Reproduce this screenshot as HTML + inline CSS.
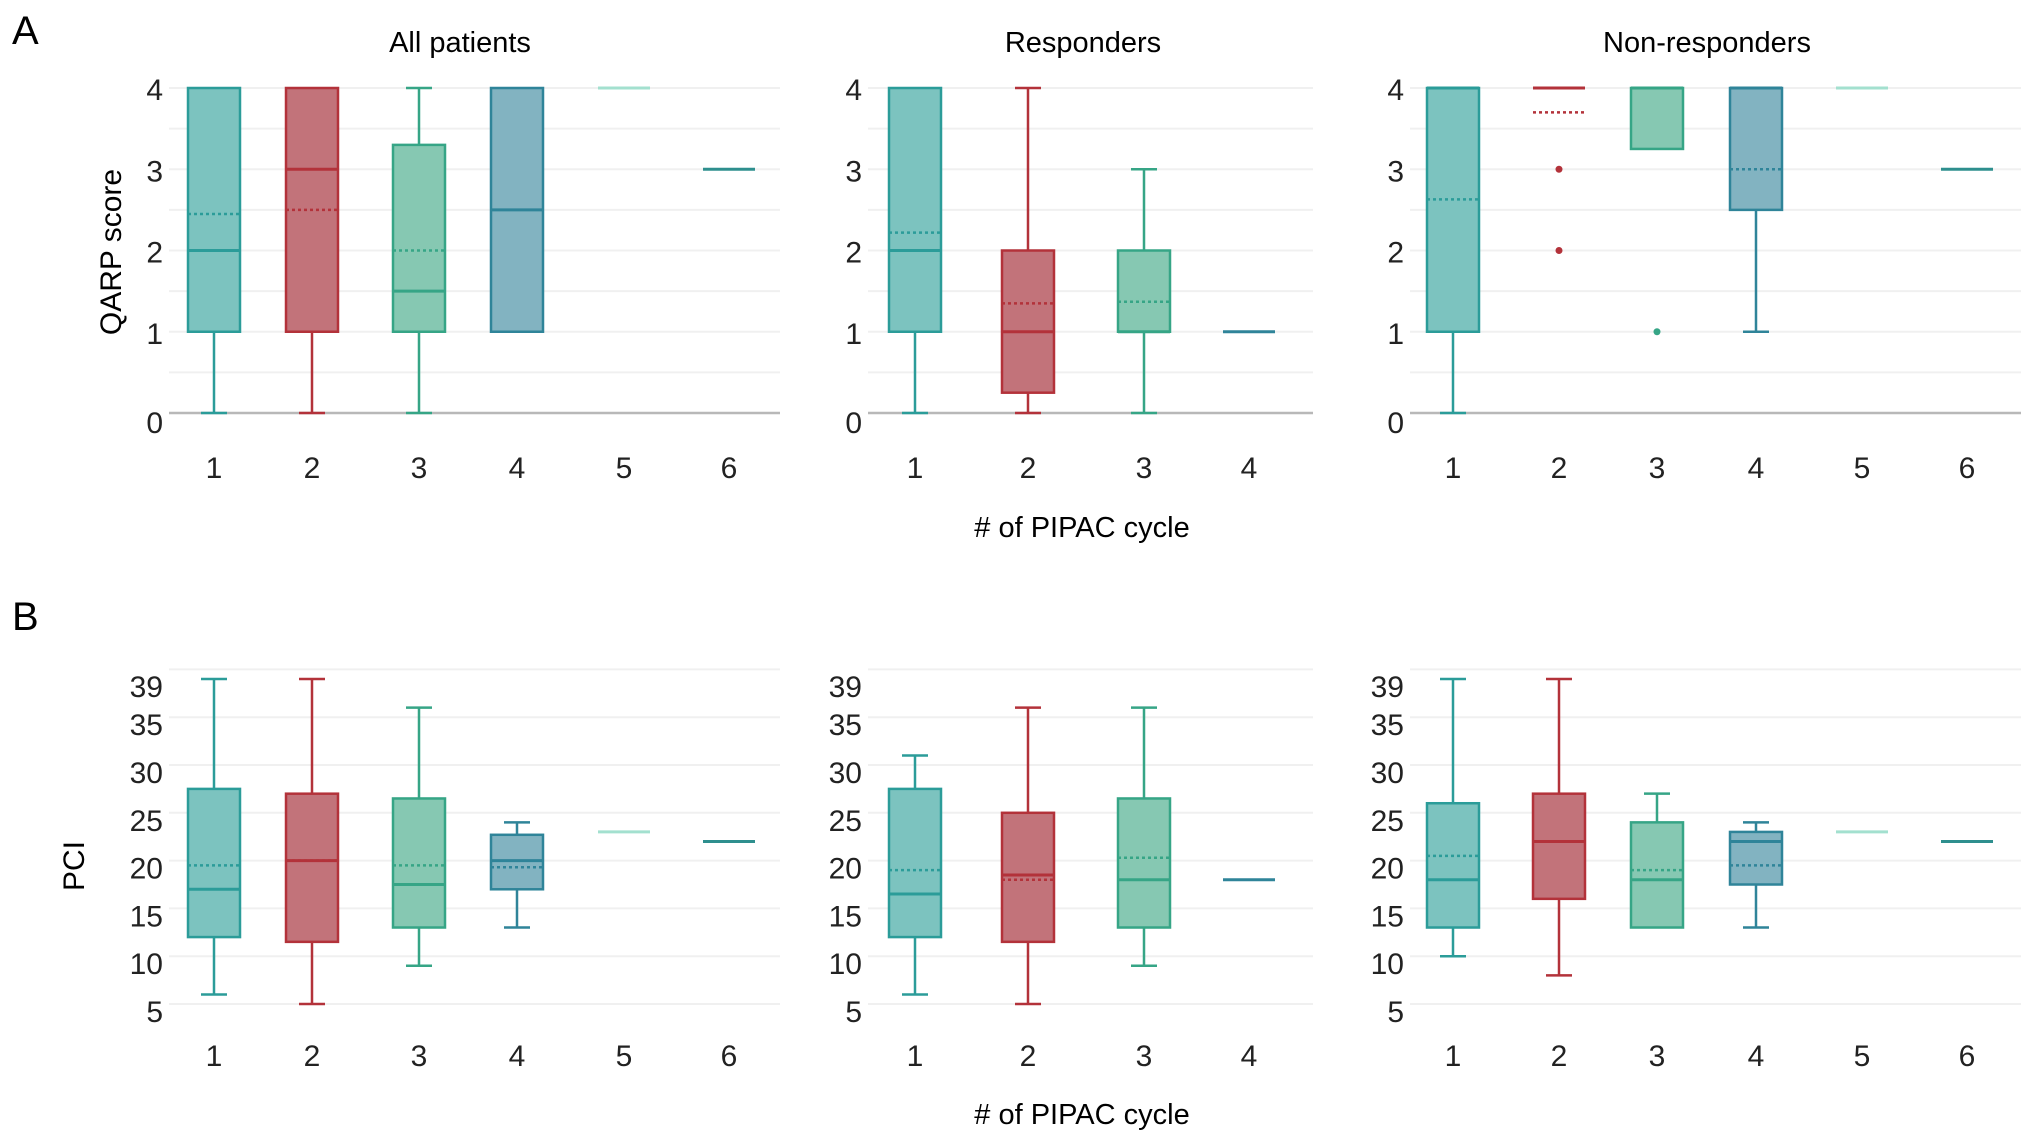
<!DOCTYPE html>
<html><head><meta charset="utf-8"><style>
html,body{margin:0;padding:0;background:#fff;}
svg{display:block;font-family:"Liberation Sans",sans-serif;}
</style></head><body>
<svg id="fig" width="2032" height="1142" viewBox="0 0 2032 1142" xmlns="http://www.w3.org/2000/svg">
<text x="12" y="44" font-size="40">A</text>
<text x="12" y="630" font-size="40">B</text>
<text x="460" y="52" font-size="29" text-anchor="middle">All patients</text>
<text x="1083" y="52" font-size="29" text-anchor="middle">Responders</text>
<text x="1707" y="52" font-size="29" text-anchor="middle">Non-responders</text>
<text x="1082" y="537" font-size="29" text-anchor="middle"># of PIPAC cycle</text>
<text x="1082" y="1124" font-size="29" text-anchor="middle"># of PIPAC cycle</text>
<text transform="translate(121,252) rotate(-90)" font-size="30" text-anchor="middle">QARP score</text>
<text transform="translate(84,866) rotate(-90)" font-size="30" text-anchor="middle">PCI</text>
</svg>
<script>
// cycles per panel
const cyclesAll = [1,2,3,4,5,6];
const cyclesResp = [1,2,3,4];
const cyclesNon = [1,2,3,4,5,6];
// QARP [lo, q1, med, q3, hi, mean]
const qarpAll = [[0,1,2,4,4,2.45],[0,1,3,4,4,2.5],[0,1,1.5,3.3,4,2.0],[1,1,2.5,4,4,null],[4,4,4,4,4,null],[3,3,3,3,3,null]];
const qarpResp = [[0,1,2,4,4,2.22],[0,0.25,1,2,4,1.35],[0,1,1,2,3,1.37],[1,1,1,1,1,null]];
const qarpNon = [[0,1,4,4,4,2.63],[4,4,4,4,4,3.7],[3.25,3.25,4,4,4,null],[1,2.5,4,4,4,3],[4,4,4,4,4,null],[3,3,3,3,3,null]];
const qarpOutNon = [[],[3,2],[1],[],[],[]];
// PCI
const pciAll = [[6,12,17,27.5,39,19.5],[5,11.5,20,27,39,20],[9,13,17.5,26.5,36,19.5],[13,17,20,22.7,24,19.3],[23,23,23,23,23,null],[22,22,22,22,22,null]];
const pciResp = [[6,12,16.5,27.5,31,19],[5,11.5,18.5,25,36,18],[9,13,18,26.5,36,20.3],[18,18,18,18,18,null]];
const pciNon = [[10,13,18,26,39,20.5],[8,16,22,27,39,22],[13,13,18,24,27,19],[13,17.5,22,23,24,19.5],[23,23,23,23,23,null],[22,22,22,22,22,null]];
const qarpTicks = [0,1,2,3,4];
const pciTicks = [5,10,15,20,25,30,35,39];

const colors = [
 {s:'#2b9c99',f:'#7cc3bf'},{s:'#b3323a',f:'#c2737a'},{s:'#36a586',f:'#86c8b2'},
 {s:'#2f8499',f:'#82b3c1'},{s:'#a3e0cf',f:'#a3e0cf'},{s:'#2e8f8e',f:'#2e8f8e'}];
const NS='http://www.w3.org/2000/svg';
const svg=document.getElementById('fig');
function mk(t,a,p){const e=document.createElementNS(NS,t);for(const k in a)e.setAttribute(k,a[k]);(p||svg).appendChild(e);return e;}

const panelsX=[
 {x0:169,x1:780,pos:[214,312,419,517,624,729]},
 {x0:868,x1:1313,pos:[915,1028,1144,1249]},
 {x0:1410,x1:2021,pos:[1453,1559,1657,1756,1862,1967]}];

function yA(v){return 413-v*81.25;}
function yB(v){return 1004-(v-5)*9.56;}

function drawPanel(pi,cycles,data,yf,ticks,grid,tickY,isA,outs){
  const P=panelsX[pi];
  const g=mk('g',{});
  
  
  grid.forEach(v=>{const l=mk('line',{x1:P.x0,x2:P.x1,y1:yf(v),y2:yf(v),stroke:'#f0f0f0','stroke-width':2},g);
    });
  if(isA){const b=mk('line',{x1:P.x0,x2:P.x1,y1:yf(0),y2:yf(0),stroke:'#b8b8b8','stroke-width':2.5},g);
    }
  ticks.forEach(v=>{const t=mk('text',{x:P.x0-6,y:yf(v)+(isA?(v===0?20:12):18),'font-size':30,'text-anchor':'end',fill:'#222'},g);
    t.textContent=v;});
  cycles.forEach((c,i)=>{
    const x=P.pos[i],d=data[i],col=colors[i],w=52;
    const tl=mk('text',{x:x,y:tickY,'font-size':30,'text-anchor':'middle',fill:'#222'},g);
    tl.textContent=c;
    const bg=mk('g',{},g);
    
    
    const [lo,q1,md,q3,hi,mn]=d;
    if(hi>q3){mk('line',{x1:x,x2:x,y1:yf(q3),y2:yf(hi),stroke:col.s,'stroke-width':2.5},bg);mk('line',{x1:x-13,x2:x+13,y1:yf(hi),y2:yf(hi),stroke:col.s,'stroke-width':2.5},bg);}
    if(lo<q1){mk('line',{x1:x,x2:x,y1:yf(q1),y2:yf(lo),stroke:col.s,'stroke-width':2.5},bg);mk('line',{x1:x-13,x2:x+13,y1:yf(lo),y2:yf(lo),stroke:col.s,'stroke-width':2.5},bg);}
    if(q3>q1) mk('rect',{x:x-w/2,y:yf(q3),width:w,height:yf(q1)-yf(q3),fill:col.f,stroke:col.s,'stroke-width':2.5},bg);
    mk('line',{x1:x-w/2,x2:x+w/2,y1:yf(md),y2:yf(md),stroke:(q3>q1?col.s:col.s),'stroke-width':3},bg);
    if(mn!==null&&mn!==undefined) mk('line',{x1:x-w/2,x2:x+w/2,y1:yf(mn),y2:yf(mn),stroke:col.s,'stroke-width':2.5,'stroke-dasharray':'3,3'},bg);
    if(outs) outs[i].forEach(o=>{const p=mk('circle',{cx:x,cy:yf(o),r:3.5,fill:col.s},bg);
      });
  });
}
const gridA=[0,0.5,1,1.5,2,2.5,3,3.5,4];
const gridB=[5,10,15,20,25,30,35,40];
drawPanel(0,cyclesAll,qarpAll,yA,qarpTicks,gridA,478,true,null);
drawPanel(1,cyclesResp,qarpResp,yA,qarpTicks,gridA,478,true,null);
drawPanel(2,cyclesNon,qarpNon,yA,qarpTicks,gridA,478,true,qarpOutNon);
drawPanel(0,cyclesAll,pciAll,yB,pciTicks,gridB,1066,false,null);
drawPanel(1,cyclesResp,pciResp,yB,pciTicks,gridB,1066,false,null);
drawPanel(2,cyclesNon,pciNon,yB,pciTicks,gridB,1066,false,null);
</script>
</body></html>
